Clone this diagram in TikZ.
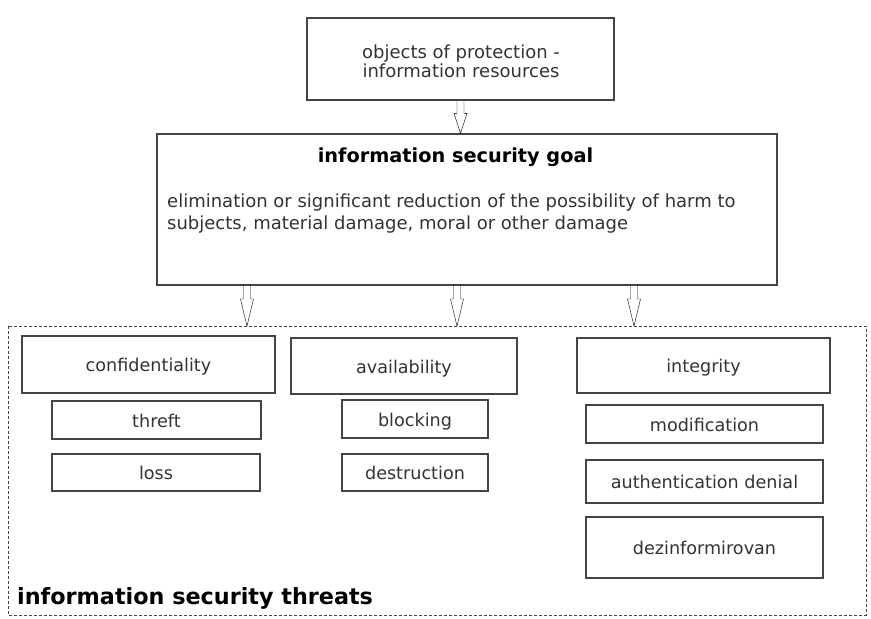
\documentclass[tikz,border=0pt]{standalone}
\usepackage{fontspec}
\setmainfont{DejaVu Sans}
\usetikzlibrary{calc}
\definecolor{txt}{HTML}{333333}
\definecolor{frame}{HTML}{444444}
\tikzset{
  box/.style={draw=frame, line width=1.2pt, fill=white, inner sep=0pt, text=txt,
    font=\fontsize{17.6}{20}\selectfont, align=center, text height=15.9pt, text depth=1.7pt},
  hollow/.style={draw=frame, line width=0.9pt, to path={
    ($(\tikztostart)+(-3.5,0)$) -- ($(\tikztotarget)+(-3.5,-#1)$) -- ($(\tikztotarget)+(-6.5,-#1)$)
    -- (\tikztotarget) -- ($(\tikztotarget)+(6.5,-#1)$) -- ($(\tikztotarget)+(3.5,-#1)$)
    -- ($(\tikztostart)+(3.5,0)$)}},
  hollow/.default=27,
  threatframe/.style={draw=frame, line width=1pt, dash pattern=on 3pt off 2pt}
}
\begin{document}
\begin{tikzpicture}[x=1pt,y=-1pt]
\useasboundingbox[fill=white] (0,0) rectangle (871,619);
% dashed frame
\draw[threatframe] (8,326) rectangle (866,615);
\coordinate (fr1) at (247,326);
\coordinate (fr2) at (457,326);
\coordinate (fr3) at (634,326);
\node[anchor=base west, font=\fontsize{22.3}{24}\selectfont\bfseries, text=black, inner sep=0pt] (threats) at (17,604.5) {information security threats};
% top
\node[box, minimum width=307pt, minimum height=82pt] (top) at (460.5,59) {};
\node[anchor=base, text=txt, font=\fontsize{18}{19.5}\selectfont, align=center, inner sep=0pt] (toptext) at (461,77.5) {objects of protection -\\information resources};
% goal
\node[box, minimum width=620pt, minimum height=151pt] (goal) at (467,209.5) {};
\node[font=\fontsize{19.3}{21}\selectfont\bfseries, text=black, inner sep=0pt, text height=14.7pt, text depth=4.6pt] (goaltitle) at (455.5,157.5) {information security goal};
\node[anchor=base west, align=left, text=txt, font=\fontsize{18}{22}\selectfont, inner sep=0pt] (goalbody) at (167,229.5) {elimination or significant reduction of the possibility of harm to\\subjects, material damage, moral or other damage};
% arrows
\draw (top.south) to[hollow=20] (goal.north -| top.south);
\draw (goal.south -| fr1) to[hollow] (fr1);
\draw (goal.south -| fr2) to[hollow] (fr2);
\draw (goal.south -| fr3) to[hollow] (fr3);
% columns
\node[box, minimum width=253pt, minimum height=57pt] (conf) at (148.5,364.5) {confidentiality};
\node[box, minimum width=226pt, minimum height=56pt] (avail) at (404,366) {availability};
\node[box, minimum width=253pt, minimum height=55pt] (integ) at (703.5,365.5) {integrity};
\node[box, minimum width=209pt, minimum height=38pt] (threft) at (156.5,420) {threft};
\node[box, minimum width=208pt, minimum height=37pt] (loss) at (156,472.5) {loss};
\node[box, minimum width=146pt, minimum height=38pt] (blocking) at (415,419) {blocking};
\node[box, minimum width=146pt, minimum height=37pt] (destr) at (415,472.5) {destruction};
\node[box, minimum width=237pt, minimum height=38pt] (modif) at (704.5,424) {modification};
\node[box, minimum width=237pt, minimum height=43pt] (auth) at (704.5,481.5) {authentication denial};
\node[box, minimum width=237pt, minimum height=61pt] (dezin) at (704.5,547.5) {dezinformirovan};
\end{tikzpicture}
\end{document}
